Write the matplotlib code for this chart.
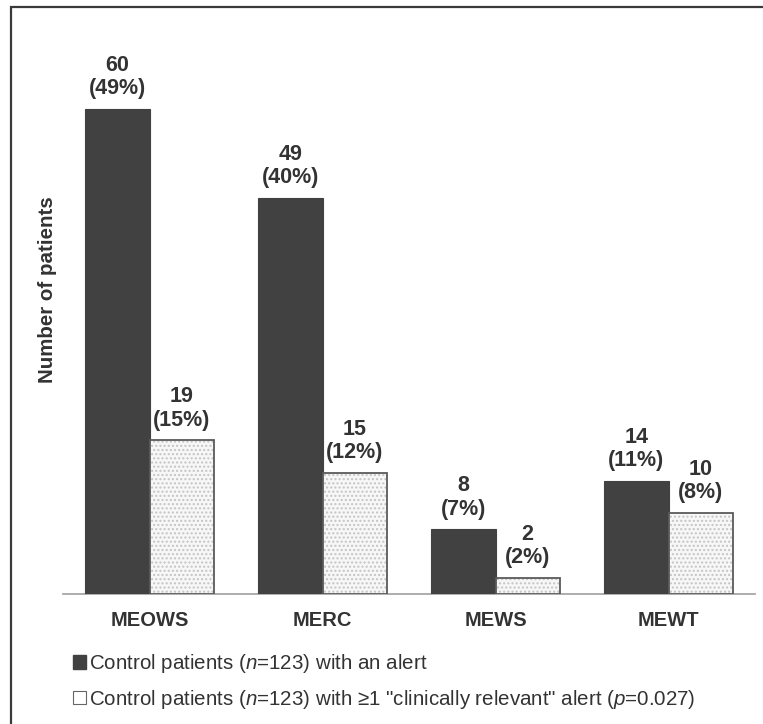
import numpy as np
import matplotlib
matplotlib.use("Agg")
import matplotlib.pyplot as plt
from matplotlib.patches import Patch, Rectangle

plt.rcParams['font.family'] = ['Liberation Sans', 'DejaVu Sans']
plt.rcParams['mathtext.fontset'] = 'custom'
plt.rcParams['mathtext.rm'] = 'Liberation Sans'
plt.rcParams['mathtext.it'] = 'Liberation Sans:italic'

# ------------------- Data -------------------
scores = ['MEOWS', 'MERC', 'MEWS', 'MEWT']
alert_counts = [60, 49, 8, 14]
alert_pct = [49, 40, 7, 11]
relevant_counts = [19, 15, 2, 10]
relevant_pct = [15, 12, 2, 8]

legend_labels = [
    'Control patients ($n$=123) with an alert',
    'Control patients ($n$=123) with \u22651 "clinically relevant" alert ($p$=0.027)',
]

TXT = '#333333'
DARK = '#414141'

# ------------------- Figure -------------------
fig = plt.figure(figsize=(7.63, 7.24), dpi=100)
ax = fig.add_axes([63 / 763, 1 - 594 / 724, 692 / 763, 566 / 724])

x = np.arange(len(scores))
w = 0.37

b1 = ax.bar(x - w / 2, alert_counts, w, color=DARK, edgecolor=DARK, linewidth=0.8, zorder=3)
# dotted fill, then the outline on top
ax.bar(x + w / 2, relevant_counts, w, color='#f7f7f7', edgecolor='#c4c4c4',
       hatch='....', linewidth=0, zorder=3)
b2 = ax.bar(x + w / 2, relevant_counts, w, fill=False, edgecolor='#5a5a5a',
            linewidth=1.3, zorder=4)

ax.bar_label(b1, labels=[f'{c}\n({p}%)' for c, p in zip(alert_counts, alert_pct)],
             padding=7, fontsize=15.5, fontweight='bold', color=TXT, linespacing=1.15)
ax.bar_label(b2, labels=[f'{c}\n({p}%)' for c, p in zip(relevant_counts, relevant_pct)],
             padding=7, fontsize=15.5, fontweight='bold', color=TXT, linespacing=1.15)

ax.set_xlim(-0.5, 3.5)
ax.set_ylim(0, 70)
ax.set_xticks(x)
ax.set_xticklabels(scores, fontsize=14.5, fontweight='bold', color=TXT)
ax.tick_params(axis='x', length=0, pad=12)
ax.set_yticks([])
for s in ['top', 'right', 'left']:
    ax.spines[s].set_visible(False)
ax.spines['bottom'].set_color('#a0a0a0')
ax.spines['bottom'].set_linewidth(1.2)

ax.set_ylabel('Number of patients', fontsize=14.8, fontweight='bold', color=TXT)
ax.yaxis.set_label_coords(-0.009, 0.537)

# legend below the plot
handles = [Patch(facecolor=DARK, edgecolor=DARK),
           Patch(facecolor='white', edgecolor='#666666', linewidth=0.8)]
fig.legend(handles, legend_labels, loc='upper left', bbox_to_anchor=(63 / 763, 1 - 642 / 724),
           frameon=False, fontsize=14.8, labelcolor=TXT, handlelength=0.62, handleheight=0.62,
           handletextpad=0.15, labelspacing=0.6, borderpad=0)

# outer frame (only left and top edges visible in the crop)
fig.patches.append(Rectangle((11 / 763, -0.1), 1.2, 1 - 7 / 724 + 0.1, transform=fig.transFigure,
                             fill=False, edgecolor='#3a3a3a', linewidth=1.6))

fig.savefig('out.png', dpi=100)
